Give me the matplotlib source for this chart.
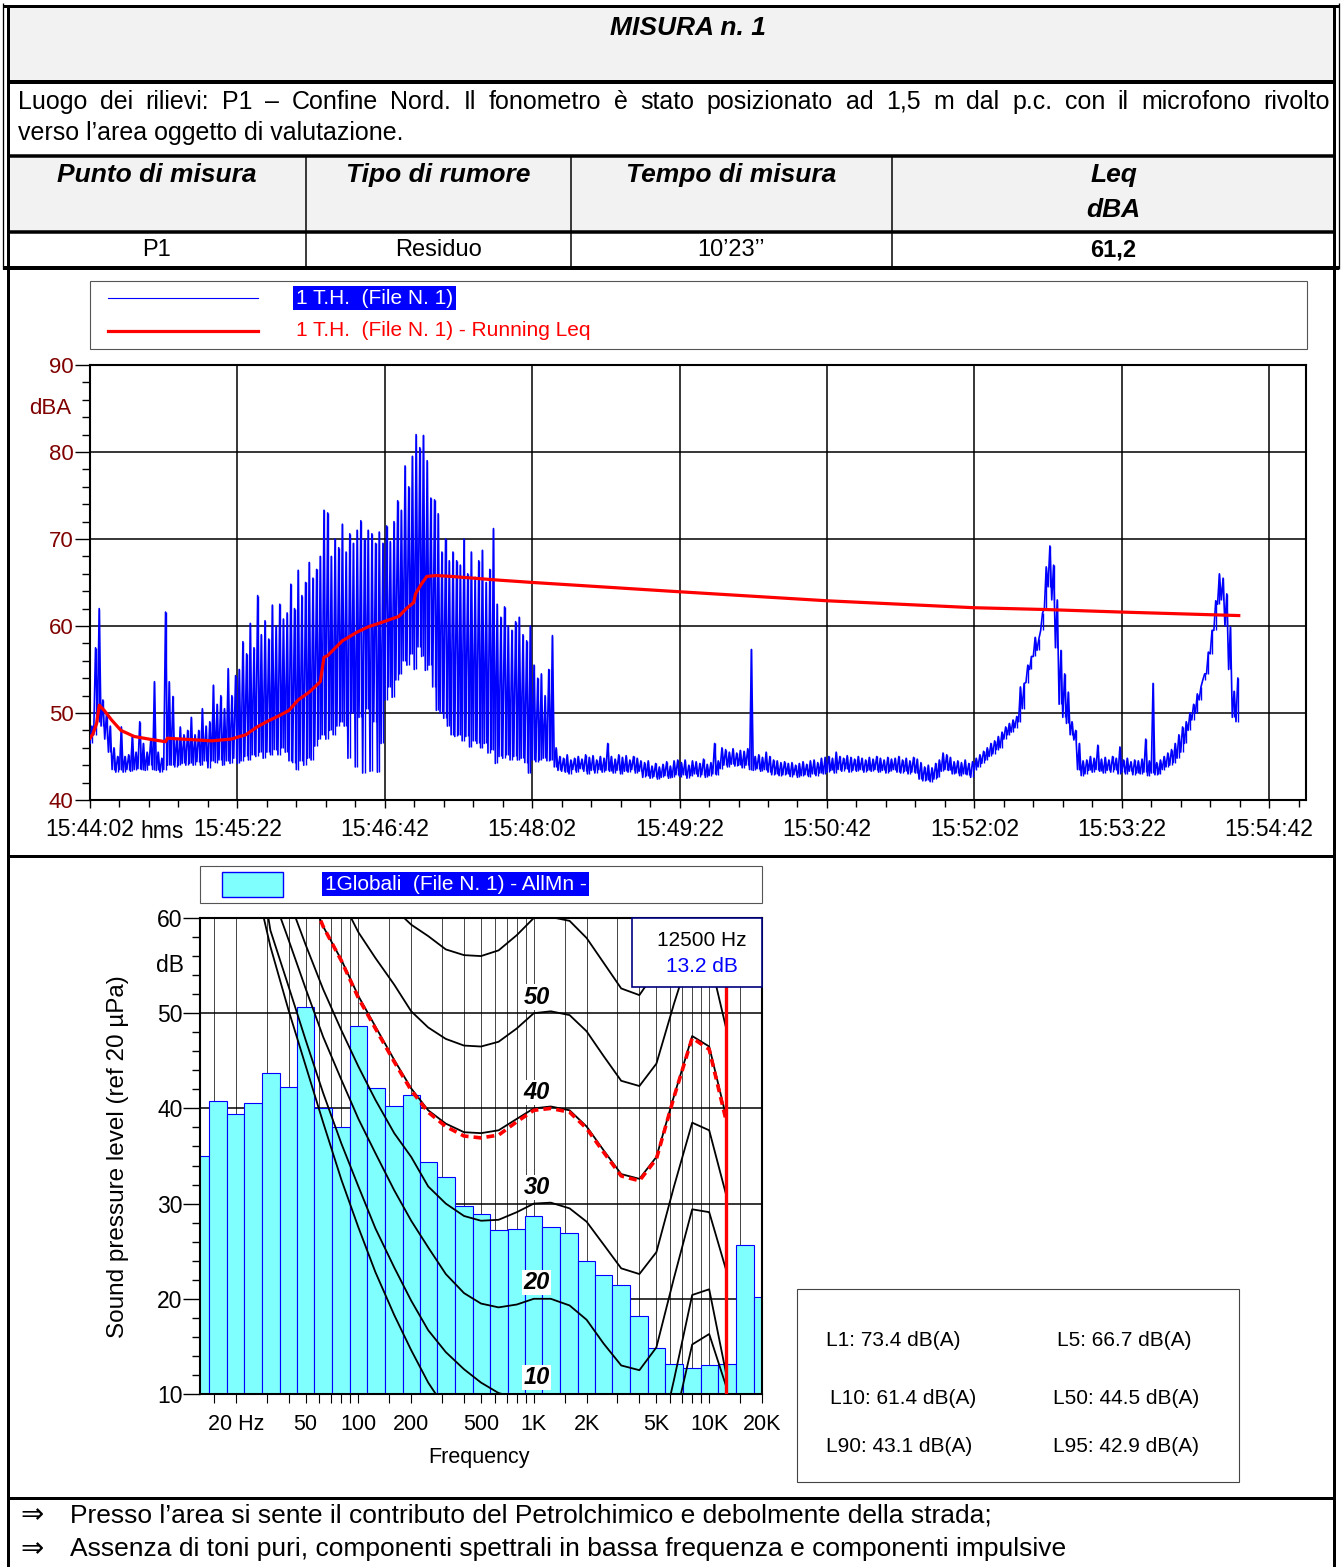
import numpy as np
import matplotlib
matplotlib.use("Agg")
import matplotlib.pyplot as plt
from matplotlib.patches import Rectangle
from matplotlib.ticker import FixedLocator, NullFormatter

plt.rcParams['font.family'] = ['Liberation Sans', 'DejaVu Sans']

# ---------------------------------------------------------------- data
TITLE = "MISURA n. 1"
SITE_LINE1 = ("Luogo dei rilievi: P1 – Confine Nord. Il fonometro è stato posizionato "
              "ad 1,5 m dal p.c. con il microfono rivolto")
SITE_LINE2 = "verso l’area oggetto di valutazione."
head_cols = ["Punto di misura", "Tipo di rumore", "Tempo di misura", "Leq"]
head_unit = "dBA"
row_vals = ["P1", "Residuo", "10’23’’", "61,2"]

# time history: 2-s bins starting 15:44:02, min / max level per bin (dBA)
TH_STEP = 2.0
th_low = [
    46.5, 47.5, 49.0, 48.5, 47.0, 45.5, 43.5, 43.2, 43.5, 43.2,
    43.5, 43.3, 43.5, 43.6, 43.5, 43.4, 44.0, 43.5, 43.4, 43.2,
    43.5, 44.0, 44.0, 43.8, 44.0, 44.2, 44.0, 44.2, 44.0, 44.4,
    44.0, 44.5, 43.7, 44.5, 44.3, 44.6, 44.0, 44.5, 44.2, 44.8,
    44.2, 44.5, 45.0, 44.6, 45.2, 45.0, 45.5, 44.8, 45.5, 45.2,
    45.8, 45.2, 46.0, 45.5, 44.5, 44.3, 43.5, 44.5, 44.0, 44.8,
    44.6, 46.2, 47.0, 47.5, 47.0, 48.0, 47.5, 48.5, 49.0, 48.5,
    44.8, 50.0, 43.8, 49.5, 43.1, 50.5, 43.3, 49.0, 43.2, 46.5,
    51.5, 53.0, 51.8, 53.8, 54.5, 56.0, 55.5, 56.8, 55.0, 57.6,
    56.5, 54.9, 55.5, 53.0, 50.3, 50.0, 49.4, 48.5, 47.5, 47.3,
    47.5, 46.8, 47.3, 46.1, 46.8, 46.5, 46.0, 46.5, 45.4, 45.8,
    44.2, 45.0, 44.8, 45.2, 44.6, 45.0, 44.6, 44.8, 44.3, 43.1,
    44.6, 44.4, 44.6, 44.8, 44.5, 44.6, 43.8, 43.4, 43.3, 43.2,
    43.0, 43.5, 43.2, 43.6, 43.3, 43.0, 43.4, 43.1, 43.5, 43.2,
    43.4, 43.3, 43.1, 43.4, 43.0, 43.3, 43.2, 43.5, 43.1, 43.3,
    42.6, 42.8, 42.5, 42.7, 42.4, 42.6, 42.8, 42.5, 42.6, 42.9,
    42.7, 42.9, 42.5, 42.8, 43.0, 42.7, 42.9, 42.6, 42.8, 43.0,
    42.9, 43.6, 44.0, 43.8, 44.1, 43.9, 44.0, 43.7, 44.0, 43.5,
    43.4, 43.6, 43.3, 43.5, 43.2, 42.9, 43.0, 42.8, 42.9, 43.0,
    42.7, 42.9, 42.6, 42.8, 42.9, 42.7, 43.0, 42.8, 43.1, 43.0,
    43.2, 43.4, 43.1, 43.5, 43.3, 43.6, 43.2, 43.4, 43.3, 43.5,
    43.2, 43.4, 43.3, 43.5, 43.2, 43.4, 43.1, 43.3, 43.5, 43.2,
    43.1, 43.3, 43.0, 43.2, 43.1, 42.4, 42.2, 42.3, 42.1, 42.4,
    42.6, 43.3, 43.5, 43.4, 43.0, 43.1, 42.8, 43.0, 42.9, 42.6,
    43.5, 43.8, 44.2, 44.6, 45.0, 45.3, 45.8, 46.0, 47.0, 47.5,
    47.8, 48.3, 49.0, 50.5, 53.5, 55.0, 56.5, 57.2, 59.5, 62.0,
    64.5, 63.0, 57.5, 51.0, 49.5, 48.8, 47.5, 46.9, 43.5, 42.8,
    43.0, 43.4, 43.2, 43.5, 43.3, 43.1, 43.4, 43.2, 43.5, 43.0,
    43.2, 43.0, 43.3, 42.9, 43.1, 43.0, 43.2, 42.8, 43.1, 42.9,
    43.0, 43.5, 43.8, 44.0, 44.3, 44.8, 45.5, 46.5, 48.0, 49.2,
    50.0, 51.5, 53.8, 54.5, 56.8, 59.5, 62.5, 63.0, 60.0, 55.0, 49.5, 49.0,
]
th_high = [
    48.5, 57.5, 62.0, 51.5, 50.0, 48.5, 46.0, 45.0, 48.4, 45.0,
    45.2, 47.5, 45.5, 49.0, 46.5, 45.5, 47.0, 53.6, 45.5, 44.8,
    61.6, 53.6, 51.9, 47.0, 48.4, 47.5, 48.0, 49.5, 47.5, 48.0,
    50.5, 48.5, 49.0, 53.2, 51.0, 52.0, 50.5, 55.1, 52.0, 54.3,
    55.0, 58.2, 56.8, 60.3, 57.5, 63.5, 59.0, 60.6, 58.5, 62.4,
    60.0, 62.5, 60.8, 61.5, 64.8, 62.0, 66.4, 63.5, 65.0, 67.3,
    65.5, 66.5, 68.0, 73.3, 73.0, 68.0, 70.0, 69.0, 71.7, 68.5,
    70.6, 69.5, 71.0, 72.1, 70.0, 71.0, 70.6, 69.5, 70.8, 69.5,
    71.5, 69.7, 72.0, 74.4, 73.3, 78.4, 76.0, 79.5, 82.0, 80.5,
    81.9, 79.0, 74.7, 74.5, 72.9, 68.5, 70.0, 67.5, 68.5, 67.5,
    67.0, 70.0, 66.0, 68.5, 65.6, 67.5, 68.7, 65.0, 66.5, 71.2,
    62.5, 61.0, 62.2, 60.0, 59.5, 60.5, 61.0, 59.0, 58.3, 60.0,
    55.5, 54.0, 54.5, 52.0, 55.0, 58.9, 46.0, 45.0, 44.8, 45.2,
    44.6, 44.8, 45.0, 44.7, 45.2, 44.9, 45.1, 44.6, 45.0, 44.8,
    46.5, 45.0, 44.7, 45.2, 44.9, 45.1, 44.6, 45.0, 44.8, 44.5,
    44.3, 44.5, 43.9, 44.2, 43.8, 44.1, 44.4, 43.9, 44.5, 44.6,
    44.3, 44.6, 44.0, 44.5, 44.4, 44.2, 44.7, 44.1, 44.3, 46.5,
    44.5, 46.0, 45.8, 45.5, 45.9, 45.4, 45.7, 45.6, 45.9, 57.3,
    45.0, 45.2, 44.9, 45.5, 45.0, 44.6, 44.5, 44.3, 44.4, 44.2,
    44.3, 44.0, 44.2, 44.4, 44.1, 44.5, 44.6, 44.3, 44.8, 44.9,
    45.0, 44.8, 45.5, 45.0, 44.8, 45.1, 44.9, 44.7, 45.0, 44.8,
    44.6, 44.9, 44.7, 45.0, 44.8, 44.6, 44.9, 44.7, 44.8, 45.0,
    44.6, 44.8, 44.5, 44.9, 44.7, 44.3, 43.8, 44.0, 43.7, 44.2,
    44.6, 45.4, 45.2, 44.9, 44.4, 44.5, 44.3, 44.6, 44.2, 44.4,
    44.8, 45.2, 45.6, 46.0, 46.5, 46.8, 47.3, 47.8, 48.4, 48.8,
    49.2, 49.6, 53.0, 53.4, 55.5, 56.5, 58.7, 58.5, 61.5, 66.8,
    69.2, 67.0, 63.0, 57.2, 54.5, 52.4, 49.0, 48.0, 46.5, 44.5,
    44.6, 45.0, 44.8, 46.3, 44.7, 44.9, 44.6, 45.0, 44.8, 46.1,
    44.6, 44.8, 44.4, 44.6, 44.5, 44.7, 47.0, 44.5, 53.4, 44.3,
    44.6, 45.0, 45.4, 45.8, 46.5, 47.5, 48.4, 49.0, 50.0, 51.0,
    52.2, 53.0, 54.5, 57.0, 59.5, 62.9, 66.0, 65.5, 63.7, 59.9, 52.5, 54.0,
]

# running Leq (seconds from start, dBA)
leq_t = [0, 1.6, 3.6, 5.0, 7.7, 11.7, 16.8, 24, 32, 41, 42, 50, 66, 76.5, 84.6,
         90.7, 96.8, 102.8, 108, 113, 119, 125, 127, 129, 137, 145, 151, 159.5,
         167.6, 171.7, 175.7, 176.7, 179.8, 182.8, 188, 196, 220, 240.5, 315,
         400, 480, 517.6, 560, 623.5]
leq_v = [47.1, 47.6, 48.8, 50.9, 50.3, 49.2, 48.0, 47.3, 47.0, 46.7, 47.1, 47.0,
         46.8, 47.0, 47.5, 48.4, 49.1, 49.7, 50.3, 51.5, 52.4, 53.6, 56.4, 56.6,
         58.3, 59.3, 59.9, 60.5, 61.1, 62.0, 62.7, 63.7, 64.8, 65.7, 65.8, 65.7,
         65.3, 65.0, 64.0, 62.9, 62.1, 61.9, 61.6, 61.2]

time_tick_s = [0, 80, 160, 240, 320, 400, 480, 560, 640]
time_tick_lbl = ["15:44:02", "15:45:22", "15:46:42", "15:48:02", "15:49:22",
                 "15:50:42", "15:52:02", "15:53:22", "15:54:42"]

# third-octave spectrum (dB)
band_f = [12.5, 16, 20, 25, 31.5, 40, 50, 63, 80, 100, 125, 160, 200, 250, 315,
          400, 500, 630, 800, 1000, 1250, 1600, 2000, 2500, 3150, 4000, 5000,
          6300, 8000, 10000, 12500, 16000, 20000]
band_db = [35.0, 40.8, 39.4, 40.6, 43.7, 42.2, 50.7, 40.0, 38.0, 48.7, 42.1, 40.2,
           41.4, 34.4, 32.8, 29.7, 28.9, 27.2, 27.3, 28.7, 27.5, 26.9, 24.0, 22.5,
           21.4, 18.2, 14.8, 13.2, 12.7, 13.0, 13.2, 25.6, 20.2]

# equal-loudness contours (phon -> dB at contour frequencies)
contour_f = [25, 31.5, 40, 50, 63, 80, 100, 125, 160, 200, 250, 315, 400, 500,
             630, 800, 1000, 1250, 1600, 2000, 2500, 3150, 4000, 5000, 6300,
             8000, 10000, 12500]
phon_0 = [65.0, 57.0, 50.3, 44.5, 38.5, 32.5, 27.5, 22.8, 18.3, 14.6, 11.2, 8.4,
          6.0, 4.2, 2.8, 1.5, 0.0, -0.5, -1.5, -3.0, -5.5, -7.5, -8.0, -5.5, 6.8,
          15.2, 16.3, 10.8]
phon_10 = [70.0, 58.7, 52.8, 47.2, 41.6, 36.3, 31.8, 27.4, 23.3, 19.8, 16.7, 14.4,
           12.6, 11.2, 10.1, 9.6, 10.0, 9.8, 9.0, 7.5, 5.3, 3.0, 2.5, 3.4, 11.5,
           20.4, 21.0, 12.1]
phon_20 = [72.0, 63.0, 57.7, 52.6, 47.5, 43.0, 38.9, 35.3, 31.4, 28.2, 25.4, 22.6,
           20.6, 19.5, 19.1, 19.4, 20.0, 20.0, 19.3, 17.8, 15.3, 13.0, 12.5, 14.9,
           22.2, 29.4, 29.1, 23.0]
phon_30 = [72.0, 67.0, 62.0, 57.2, 52.5, 48.2, 44.4, 40.9, 37.4, 34.9, 31.8, 30.0,
           28.7, 28.2, 28.3, 29.1, 30.0, 30.1, 29.5, 28.1, 25.7, 23.2, 22.6, 24.9,
           31.8, 38.5, 37.7, 30.9]
phon_40 = [78.0, 73.0, 68.0, 63.5, 59.1, 55.6, 51.8, 48.6, 45.1, 42.1, 39.8, 38.4,
           37.5, 37.4, 37.7, 38.9, 40.0, 40.2, 39.8, 38.1, 35.6, 33.1, 32.6, 34.9,
           41.3, 47.6, 46.5, 39.1]
phon_50 = [85.0, 80.0, 75.0, 70.0, 66.0, 62.0, 58.5, 55.8, 53.0, 50.2, 48.5, 47.3,
           46.6, 46.5, 47.0, 48.4, 50.0, 50.2, 49.8, 48.1, 45.5, 42.9, 42.35, 44.7,
           51.0, 57.0, 56.0, 48.4]
phon_60 = [90.0, 85.0, 80.0, 76.0, 72.0, 68.0, 65.0, 64.0, 61.0, 59.3, 58.1, 56.7,
           56.1, 56.0, 56.6, 58.2, 60.0, 60.1, 59.7, 57.9, 55.3, 52.6, 51.9, 54.5,
           61.0, 67.0, 66.0, 58.0]
contour_lbl = [10, 20, 30, 40, 50]

# contour fitted through the spectrum (dashed)
fit_f = [50, 63, 80, 100, 125, 160, 200, 250, 315, 400, 500, 630, 800, 1000,
         1250, 1600, 2000, 2500, 3150, 4000, 5000, 6300, 8000, 10000, 12500]
fit_db = [63.5, 59.1, 55.5, 51.6, 48.4, 44.9, 41.9, 39.6, 38.1, 37.1, 36.9, 37.2,
          38.6, 39.8, 40.0, 39.6, 37.9, 35.4, 32.9, 32.4, 34.7, 41.2, 47.4, 46.2,
          38.7]

CURSOR_F = 12500
freq_ticks = [20, 50, 100, 200, 500, 1000, 2000, 5000, 10000, 20000]
freq_tick_lbl = ["20 Hz", "50", "100", "200", "500", "1K", "2K", "5K", "10K", "20K"]
freq_grid = [15, 20, 30, 40, 50, 60, 70, 80, 90, 100, 150, 200, 300, 400, 500, 600,
             700, 800, 900, 1000, 1500, 2000, 3000, 4000, 5000, 6000, 7000, 8000,
             9000, 10000, 15000, 20000]

stats = [("L1", 73.4), ("L5", 66.7), ("L10", 61.4), ("L50", 44.5),
         ("L90", 43.1), ("L95", 42.9)]

notes = ["Presso l’area si sente il contributo del Petrolchimico e debolmente della strada;",
         "Assenza di toni puri, componenti spettrali in bassa frequenza e componenti impulsive"]

# ---------------------------------------------------------------- page
W, H = 1341, 1567
fig = plt.figure(figsize=(W / 100, H / 100), dpi=100)
page = fig.add_axes([0, 0, 1, 1])
page.set_xlim(0, W)
page.set_ylim(H, 0)
page.axis('off')


def px_axes(x0, y0, x1, y1, **kw):
    return fig.add_axes([x0 / W, 1 - y1 / H, (x1 - x0) / W, (y1 - y0) / H], **kw)


def hline(ax, y, x0, x1, lw_px, color='black'):
    ax.plot([x0, x1], [y, y], color=color, lw=lw_px * 0.72, solid_capstyle='butt')


def vline(ax, x, y0, y1, lw_px, color='black'):
    ax.plot([x, x], [y0, y1], color=color, lw=lw_px * 0.72, solid_capstyle='butt')


# table shading
page.add_patch(Rectangle((8, 7), 1327, 74, fc='#F2F2F2', ec='none'))
page.add_patch(Rectangle((8, 157), 1327, 74, fc='#F2F2F2', ec='none'))

# frame
vline(page, 3, 3, 269, 1.3)
vline(page, 1339, 3, 269, 1.3)
vline(page, 8.5, 5, 1567, 3)
vline(page, 1334.5, 5, 1567, 3)
hline(page, 5.5, 3, 1339, 3)
hline(page, 81.5, 8, 1335, 4)
hline(page, 156, 8, 1335, 3.5)
hline(page, 231.5, 8, 1335, 3.5)
hline(page, 268, 3, 1339, 4)
for xc in (306, 571, 892):
    vline(page, xc, 157, 268, 1.5)
hline(page, 856, 8, 1335, 3)
hline(page, 1497.5, 8, 1335, 3)

BODY = 18
HEAD = 19
page.text(688, 28, TITLE, ha='center', va='center', fontsize=HEAD,
          fontweight='bold', fontstyle='italic')


def justify(words, x0, x1, y, **kw):
    r = fig.canvas.get_renderer()
    items = [page.text(0, y, w, va='center', ha='left', **kw) for w in words]
    widths = [t.get_window_extent(r).width for t in items]
    gap = (x1 - x0 - sum(widths)) / (len(words) - 1)
    x = x0
    for t, w in zip(items, widths):
        t.set_x(x)
        x += w + gap


justify(SITE_LINE1.split(' '), 18, 1330, 102, fontsize=BODY)
page.text(18, 133, SITE_LINE2, ha='left', va='center', fontsize=BODY)

col_c = [157, 438.5, 731.5, 1113.5]
for c, t in zip(col_c, head_cols):
    page.text(c, 175, t, ha='center', va='center', fontsize=HEAD,
              fontweight='bold', fontstyle='italic')
page.text(col_c[3], 210, head_unit, ha='center', va='center', fontsize=HEAD,
          fontweight='bold', fontstyle='italic')
for i, (c, t) in enumerate(zip(col_c, row_vals)):
    page.text(c, 250, t, ha='center', va='center', fontsize=17,
              fontweight='bold' if i == 3 else 'normal')

# ---------------------------------------------------------------- time history
page.add_patch(Rectangle((90, 281), 1217, 68, fc='white', ec='#555555', lw=0.8))
page.plot([108, 258], [298, 298], color='#0000FF', lw=0.8)
page.plot([108, 258], [331, 331], color='#FF0000', lw=2.3)
page.text(296, 298, "1 T.H.  (File N. 1)", ha='left', va='center', fontsize=15,
          color='white', bbox=dict(boxstyle='square,pad=0.12', fc='#0000FF', ec='none'))
page.text(296, 331, "1 T.H.  (File N. 1) - Running Leq", ha='left', va='center',
          fontsize=15, color='#FF0000')

ax1 = px_axes(90, 365, 1306, 800)
n = len(th_low)
t0 = np.arange(n) * TH_STEP
xs = np.empty(2 * n)
ys = np.empty(2 * n)
xs[0::2] = t0
xs[1::2] = t0 + TH_STEP / 2
ys[0::2] = th_low
ys[1::2] = th_high
ax1.plot(xs, ys, color='#0000FF', lw=1.2, zorder=3)
ax1.vlines(t0 + TH_STEP / 2, th_low, th_high, color='#0000FF', lw=1.0, zorder=3)
ax1.plot(leq_t, leq_v, color='#FF0000', lw=2.3, zorder=4)
ax1.set_xlim(0, 660)
ax1.set_ylim(40, 90)
ax1.set_xticks(time_tick_s)
ax1.set_xticklabels(time_tick_lbl)
ax1.xaxis.set_minor_locator(FixedLocator(np.arange(0, 660, 16)))
ax1.set_yticks([40, 50, 60, 70, 80, 90])
ax1.yaxis.set_minor_locator(FixedLocator(np.arange(40, 91, 2)))
ax1.grid(True, which='major', color='black', lw=1.1)
ax1.set_axisbelow(True)
ax1.tick_params(axis='both', which='both', direction='out', color='black')
ax1.tick_params(axis='x', which='major', length=6, width=1, pad=7, labelsize=16.5)
ax1.tick_params(axis='x', which='minor', length=5, width=1)
ax1.tick_params(axis='y', which='major', length=11, width=1, pad=1, labelsize=16,
                labelcolor='#800000')
ax1.tick_params(axis='y', which='minor', length=5.5, width=1)
for s in ax1.spines.values():
    s.set_linewidth(1.5)
page.text(71, 409, "dBA", ha='right', va='center', fontsize=16, color='#800000')
page.text(162, 831, "hms", ha='center', va='center', fontsize=16.5)

# ---------------------------------------------------------------- spectrum
page.add_patch(Rectangle((200, 866), 562, 37, fc='white', ec='#555555', lw=0.8))
page.add_patch(Rectangle((222, 872), 61, 25, fc='#80FFFF', ec='#0000FF', lw=1))
page.text(325, 884, "1Globali  (File N. 1) - AllMn -", ha='left', va='center',
          fontsize=15, color='white',
          bbox=dict(boxstyle='square,pad=0.12', fc='#0000FF', ec='none'))

ax2 = px_axes(200, 918, 762, 1394)
ax2.set_xscale('log')
bf = np.array(band_f)
mid = np.sqrt(bf[:-1] * bf[1:])
left = np.concatenate([[bf[0] / 2 ** (1 / 6)], mid])
right = np.concatenate([mid, [bf[-1] * 2 ** (1 / 6)]])
ax2.bar(left, band_db, width=right - left, align='edge', color='#80FFFF',
        edgecolor='#0000FF', lw=0.8, zorder=2)
for vals in (phon_0, phon_10, phon_20, phon_30, phon_40, phon_50, phon_60):
    ax2.plot(contour_f, vals, color='black', lw=1.3, zorder=3)
ax2.plot(fit_f, fit_db, color='#FF0000', lw=2.6, ls=(0, (2.2, 1.4)), zorder=4)
ax2.axvline(CURSOR_F, color='#FF0000', lw=2.4, zorder=5)
for lv in contour_lbl:
    ax2.text(1036, lv + 1.7, str(lv), ha='center', va='center', fontsize=17,
             fontweight='bold', fontstyle='italic', zorder=6,
             bbox=dict(boxstyle='square,pad=0.05', fc='white', ec='none'))
ax2.set_xlim(12.5, 20000)
ax2.set_ylim(10, 60)
ax2.set_xticks(freq_ticks)
ax2.set_xticklabels(freq_tick_lbl)
ax2.xaxis.set_minor_locator(FixedLocator(freq_grid))
ax2.xaxis.set_minor_formatter(NullFormatter())
ax2.set_yticks([10, 20, 30, 40, 50, 60])
ax2.yaxis.set_minor_locator(FixedLocator(np.arange(10, 61, 2)))
ax2.set_axisbelow(True)
ax2.grid(True, which='both', axis='x', color='#444444', lw=0.7)
ax2.grid(True, which='major', axis='y', color='black', lw=1.1)
ax2.tick_params(axis='both', which='both', direction='out', color='black')
ax2.tick_params(axis='x', which='both', length=6.5, width=0.8, pad=8, labelsize=15.5)
ax2.tick_params(axis='y', which='major', length=12, width=1, pad=0.5, labelsize=16.5)
ax2.tick_params(axis='y', which='minor', length=5.5, width=1)
for s in ax2.spines.values():
    s.set_linewidth(1.5)
page.text(184, 966, "dB", ha='right', va='center', fontsize=16.5)
page.text(118, 1157, "Sound pressure level (ref 20 µPa)", rotation=90,
          ha='center', va='center', fontsize=17.5)
page.text(479, 1458, "Frequency", ha='center', va='center', fontsize=15.5)

# statistics box
page.add_patch(Rectangle((797, 1289), 442, 193, fc='white', ec='#444444', lw=0.8))
stat_xy = [(826, 1340), (1057, 1340), (830, 1398), (1053, 1398), (826, 1447), (1053, 1447)]
for (name, val), (sx, sy) in zip(stats, stat_xy):
    page.text(sx, sy, f"{name}: {val:.1f} dB(A)", ha='left', va='center', fontsize=15)

# notes
for i, txt in enumerate(notes):
    y = 1515 + i * 34
    page.text(32, y, "⇒", ha='center', va='center', fontsize=20, family=['DejaVu Sans'])
    page.text(70, y, txt, ha='left', va='center', fontsize=19)

# cursor readout on top of the spectrum
top = fig.add_axes([0, 0, 1, 1], zorder=10)
top.set_xlim(0, W)
top.set_ylim(H, 0)
top.axis('off')
cur_db = band_db[band_f.index(CURSOR_F)]
top.add_patch(Rectangle((632, 918), 130, 69, fc='white', ec='#000080', lw=1.2))
top.text(702, 940, f"{CURSOR_F} Hz", ha='center', va='center', fontsize=15)
top.text(702, 966, f"{cur_db:.1f} dB", ha='center', va='center', fontsize=15,
         color='#0000FF')

fig.savefig("out.png", dpi=100)
